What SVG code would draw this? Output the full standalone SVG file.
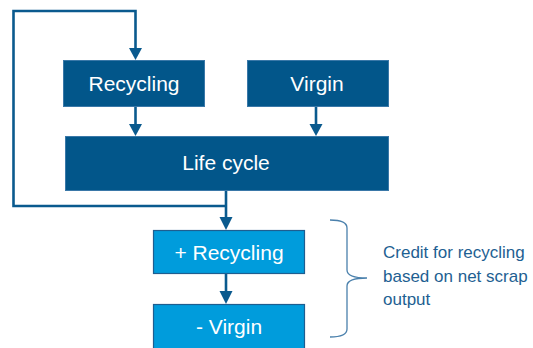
<svg xmlns="http://www.w3.org/2000/svg" width="533" height="348" viewBox="0 0 533 348">
<style>
.dark{fill:#02568A;stroke:#3A78A8;stroke-width:1}
.light{fill:#009CDC;stroke:#1E5E90;stroke-width:1.2}
.lbl{font-family:"Liberation Sans",Arial,sans-serif;font-size:21px;fill:#ffffff;text-anchor:middle}
.conn{fill:none;stroke:#0A5A8E;stroke-width:2.6}
.head{fill:#0A5A8E}
.note{font-family:"Liberation Sans",Arial,sans-serif;font-size:17px;fill:#1E5F92}
</style>
<rect width="533" height="348" fill="#ffffff"/>
<g id="connectors">
<path class="conn" d="M226,206 L13.5,206 L13.5,11 L135.5,11 L135.5,50"/>
<path class="head" d="M129,48 L142,48 L135.5,60 Z"/>
<path class="conn" d="M135.5,107 L135.5,126"/>
<path class="head" d="M129,124 L142,124 L135.5,136 Z"/>
<path class="conn" d="M316,107 L316,126"/>
<path class="head" d="M309.5,124 L322.5,124 L316,136 Z"/>
<path class="conn" d="M226,191 L226,219"/>
<path class="head" d="M219.5,217 L232.5,217 L226,230 Z"/>
<path class="conn" d="M226,274 L226,293"/>
<path class="head" d="M219.5,291 L232.5,291 L226,304 Z"/>
</g>
<g id="recycling">
<rect class="dark" x="63.5" y="60.5" width="141" height="46"/>
<text class="lbl" x="134" y="91">Recycling</text>
</g>
<g id="virgin">
<rect class="dark" x="247.5" y="60.5" width="141" height="46"/>
<text class="lbl" x="317" y="91">Virgin</text>
</g>
<g id="lifecycle">
<rect class="dark" x="65.5" y="136.5" width="323" height="54"/>
<text class="lbl" x="226" y="170">Life cycle</text>
</g>
<g id="plus-recycling">
<rect class="light" x="153.5" y="230.5" width="151" height="43"/>
<text class="lbl" x="229" y="260">+ Recycling</text>
</g>
<g id="minus-virgin">
<rect class="light" x="153.5" y="304.5" width="151" height="46"/>
<text class="lbl" x="229" y="334">- Virgin</text>
</g>
<g id="brace">
<path d="M330,220 Q347,220 347,228 L347,270 Q347,278 367,278 Q347,278 347,286 L347,329 Q347,337 330,337" fill="none" stroke="#4A80AC" stroke-width="1.3"/>
</g>
<g id="note">
<text class="note" x="383" y="258">Credit for recycling</text>
<text class="note" x="383" y="282">based on net scrap</text>
<text class="note" x="383" y="305">output</text>
</g>
</svg>
